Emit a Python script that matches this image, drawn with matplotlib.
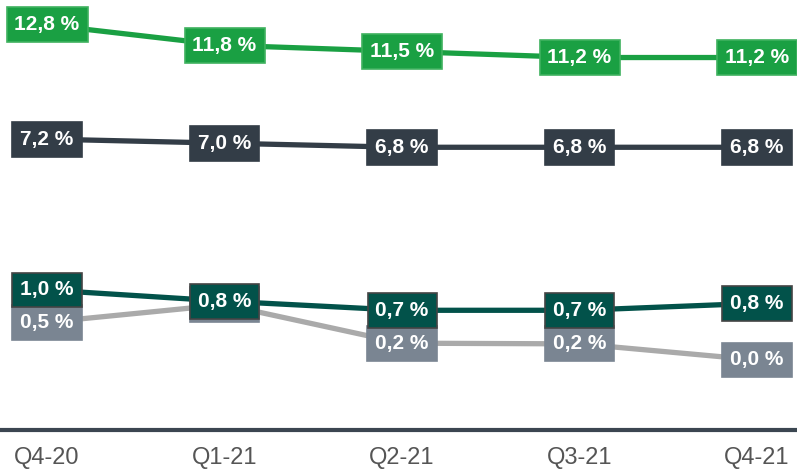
import matplotlib.pyplot as plt

plt.rcParams['font.family'] = ['Liberation Sans', 'DejaVu Sans']

# kvartaler og serier
kvartaler = ['Q4-20', 'Q1-21', 'Q2-21', 'Q3-21', 'Q4-21']
gronn = [12.8, 11.8, 11.5, 11.2, 11.2]
morkgraa = [7.2, 7.0, 6.8, 6.8, 6.8]
morkgronn = [1.0, 0.84, 0.71, 0.71, 0.81]
lysgraa = [0.54, 0.79, 0.24, 0.23, 0.0]

x = list(range(len(kvartaler)))


def etikett(v):
    return f'{v:.1f}'.replace('.', ',') + ' %'


def tegn(ax, verdier, linjefarge, boksfarge, kantfarge, z):
    ax.plot(x, verdier, color=linjefarge, lw=3.8, zorder=z, solid_capstyle='butt')
    for xi, v in zip(x, verdier):
        ax.text(xi, v, etikett(v), ha='center', va='center', color='white',
                fontsize=15, fontweight='bold', zorder=z + 1,
                bbox=dict(boxstyle='square,pad=0.38', fc=boksfarge,
                          ec=kantfarge, lw=1.2))


fig = plt.figure(figsize=(7.97, 4.69), dpi=100)
ax = fig.add_axes([0, 0.0832, 1, 0.9168])
ax2 = ax.twinx()

tegn(ax, gronn, '#1aa043', '#1aa043', '#3fb25f', 2)
tegn(ax, morkgraa, '#333d47', '#333d47', '#333d47', 2)
tegn(ax2, lysgraa, '#aaaaaa', '#7a8592', '#7a8592', 2)
tegn(ax2, morkgronn, '#02524a', '#02524a', '#444444', 4)

ax.set_xlim(-0.265, 4.225)
ax.set_ylim(-7.06, 14.02)
ax2.set_ylim(-1.0, 5.143)

for a in (ax, ax2):
    for s in ('top', 'left', 'right'):
        a.spines[s].set_visible(False)
    a.set_yticks([])
ax2.spines['bottom'].set_visible(False)
ax.spines['bottom'].set_color('#3b4651')
ax.spines['bottom'].set_linewidth(3)

ax.set_xticks(x)
ax.set_xticklabels(kvartaler)
ax.tick_params(axis='x', length=0, pad=12, labelsize=17, labelcolor='#555555')

fig.savefig('out.png', dpi=100)
